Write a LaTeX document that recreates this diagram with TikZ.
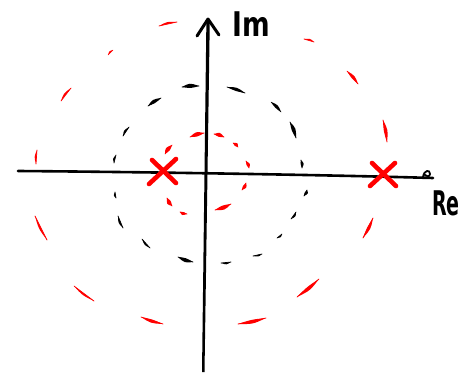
\documentclass[tikz,border=0pt]{standalone}
\usepackage{fontspec}
\setmainfont{DejaVu Sans}
\usetikzlibrary{calc}
\definecolor{penred}{RGB}{255,0,0}
% hand-drawn dash: [thickness]{circle centre}{start}{end}
\newcommand\hdash[4][1.8]{%
  \pgfmathsetmacro\hdout{-(0.9+1.1*#1)}%
  \pgfmathsetmacro\hdin{-(0.9-1.1*#1)}%
  \path ($(#3)!0.5!(#4)$) coordinate (hdm);
  \path ($(hdm)!\hdout pt!(#2)$) coordinate (hdo);
  \path ($(hdm)!\hdin pt!(#2)$) coordinate (hdi);
  \fill (#3) .. controls (hdo) .. (#4) .. controls (hdi) .. (#3);
  \draw[line width=0.7pt,line cap=round] (#3) .. controls ($(hdm)!-0.9pt!(#2)$) .. (#4);
}
\tikzset{
  axisline/.style={line width=2.6pt,line cap=round,line join=round},
  crossline/.style={penred,line width=4.6pt,line cap=round},
  handtext/.style={font=\bfseries\fontsize{34}{34}\selectfont,inner sep=0pt}
}
\begin{document}
\begin{tikzpicture}[x=1pt,y=-1pt]
\useasboundingbox (0,0) rectangle (460,372);
\fill[white] (0,0) rectangle (460,372);

% centres of the circles
\coordinate (cbig) at (212,173);
\coordinate (cmid) at (209,174);
\coordinate (csml) at (207,172);

% big red dashed circle
\begin{scope}[penred]
\hdash[1.6]{cbig}{159,26}{177,22}
\hdash[1.0]{cbig}{108,55}{113,50}
\hdash[1.6]{cbig}{61,101}{71,88}
\hdash[1.4]{cbig}{36,164}{37,150}
\hdash[1.5]{cbig}{35,216}{47,240}
\hdash[1.5]{cbig}{74,286}{94,301}
\hdash[2.0]{cbig}{141,317}{163,324}
\hdash[2.2]{cbig}{238,324}{266,318}
\hdash[2.2]{cbig}{297,297}{319,279}
\hdash[2.0]{cbig}{363,238}{373,218}
\hdash[2.2]{cbig}{383,120}{387,142}
\hdash[2.0]{cbig}{347,71}{358,84}
\hdash[1.4]{cbig}{304,39}{314,42}
\end{scope}

% black dashed circle
\begin{scope}[black]
\hdash[2.6]{cmid}{182,87}{199,86}
\hdash[2.2]{cmid}{148,106}{161,98}
\hdash[1.6]{cmid}{123,136}{129,127}
\hdash[1.4]{cmid}{114,163}{116,155}
\hdash[1.2]{cmid}{115,192}{116,198}
\hdash[1.6]{cmid}{118,216}{123,228}
\hdash[1.4]{cmid}{142,239}{150,248}
\hdash[2.4]{cmid}{178,257}{193,262}
\hdash[1.4]{cmid}{221,263}{231,262}
\hdash[1.2]{cmid}{253,256}{262,254}
\hdash[1.2]{cmid}{277,238}{282,234}
\hdash[1.6]{cmid}{291,219}{296,212}
\hdash[2.0]{cmid}{304,196}{307,190}
\hdash[1.8]{cmid}{301,160}{302,168}
\hdash[2.4]{cmid}{290,122}{296,138}
\hdash[2.0]{cmid}{271,102}{281,112}
\hdash[2.0]{cmid}{227,87}{245,93}
\end{scope}

% small red dashed circle
\begin{scope}[penred]
\hdash[2.6]{csml}{190,137}{204,133}
\hdash[2.4]{csml}{214,134}{224,137}
\hdash[2.2]{csml}{233,143}{238,147}
\hdash[2.2]{csml}{246,161}{249,168}
\hdash[2.2]{csml}{242,190}{246,183}
\hdash[2.6]{csml}{215,210}{231,204}
\hdash[2.0]{csml}{180,212}{187,214}
\hdash[2.6]{csml}{167,198}{172,206}
\hdash[2.6]{csml}{165,154}{172,145}
\end{scope}

% axes
\coordinate (xl) at (18,171);
\coordinate (xr) at (433,178);
\coordinate (yb) at (203,372);
\coordinate (yt) at (208,19);
\coordinate (al) at (197,36);
\coordinate (ar) at (219,35);
\draw[axisline] (xl) .. controls (150,172) and (330,175) .. (xr);
\fill (202,372) -- (204.5,372) -- (209.8,20) -- (206.4,20) -- cycle;
\draw[axisline,line width=3pt] (al) .. controls (203,27) .. (yt) .. controls (214,27) .. (ar);
% small loop at the end of the real axis
\coordinate (sq) at (423,177);
\draw[line width=1.8pt,line cap=round,line join=round] (sq) .. controls (424,170) and (430,169) .. (430,174) .. controls (430,177) and (426,177) .. (425,175);

% crosses
\coordinate (p1) at (163,172);
\coordinate (p2) at (383,174);
\draw[crossline] (149,184) -- (176,159);
\draw[crossline] (152,160) -- (176,183);
\draw[crossline] (370,186) -- (395,163);
\draw[crossline] (372,163) -- (396,186);

% labels
\node[handtext,anchor=south west,xscale=0.78] (im) at (232,37) {Im};
\node[handtext,anchor=south east,xscale=0.56] (re) at (460,216) {Re};
\end{tikzpicture}
\end{document}
